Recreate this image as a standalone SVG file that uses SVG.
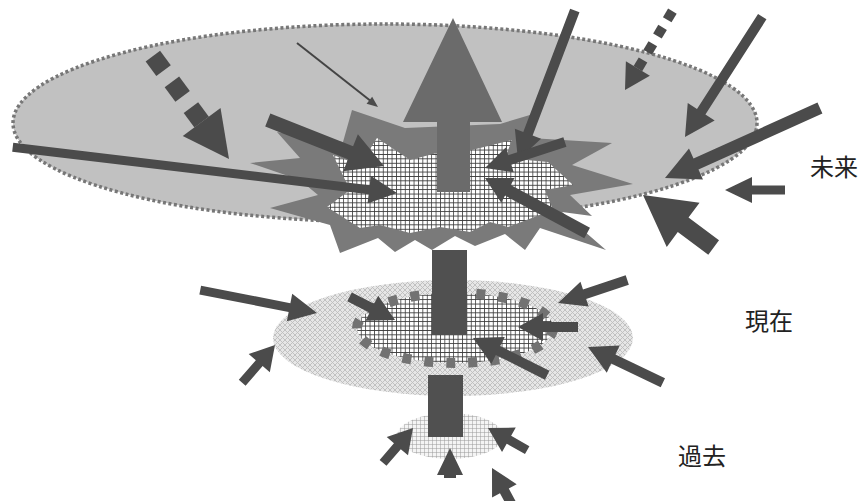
<svg xmlns="http://www.w3.org/2000/svg" width="863" height="501" viewBox="0 0 863 501">
<style>
.arr{fill:#4b4b4b}
.lbl{font-family:"Noto Sans CJK JP","Noto Sans",sans-serif;font-size:24px;fill:#222}
.bar{fill:#505050}
</style>
<defs>
<pattern id="chk" width="4.4" height="4.4" patternUnits="userSpaceOnUse">
<rect width="4.4" height="4.4" fill="#fff"/>
<path d="M0 0H4.4M0 0V4.4" stroke="#3a3a3a" stroke-width="1.6" fill="none"/>
</pattern>
<pattern id="hatch" width="5" height="5" patternUnits="userSpaceOnUse">
<rect width="5" height="5" fill="#e6e6e6"/>
<path d="M0 0L5 5M5 0L0 5" stroke="#bdbdbd" stroke-width="0.9" fill="none"/>
</pattern>
<pattern id="grid" width="4" height="4" patternUnits="userSpaceOnUse">
<rect width="4" height="4" fill="#f4f4f4"/>
<path d="M0 0H4M0 0V4" stroke="#9a9a9a" stroke-width="1" fill="none"/>
</pattern>
</defs>
<rect width="863" height="501" fill="#fff"/>

<g id="future">
<ellipse cx="385" cy="123" rx="372" ry="99" fill="#c1c1c1" stroke="#777" stroke-width="3.5" stroke-dasharray="3 2.5"/>
<polygon fill="#7a7a7a" points="352,110 405,128 500,124 540,112 530,138 612,143 572,165 633,184 570,195 592,216 562,212 606,250 540,228 525,250 505,234 475,246 455,236 432,250 415,240 395,252 378,238 340,253 330,225 270,208 318,195 300,180 250,163 300,158 277,132 343,142"/>
<polygon fill="url(#chk)" points="377,138 410,160 437,153 472,150 512,140 505,158 548,162 573,185 545,190 553,210 508,227 490,222 470,232 440,227 410,233 380,225 360,228 327,207 350,190 333,155 360,165"/>
<polygon fill="#6b6b6b" points="453,18 502,122 470,122 470,192 437,192 437,122 403,122"/>
</g>

<g id="present">
<ellipse cx="453" cy="338" rx="180" ry="58" fill="url(#hatch)"/>
<ellipse cx="455" cy="328" rx="98" ry="35" fill="url(#chk)" stroke="#727272" stroke-width="10" stroke-dasharray="9 13"/>
<rect class="bar" x="432" y="250" width="35" height="85"/>
</g>

<g id="past">
<ellipse cx="450" cy="436" rx="53" ry="23" fill="url(#grid)"/>
<rect class="bar" x="428" y="375" width="35" height="62"/>
</g>

<g id="connectors">
<g transform="translate(229,159) rotate(53.5)" class="arr">
<rect x="-128" y="-9" width="18" height="18"/>
<rect x="-96" y="-9" width="18" height="18"/>
<rect x="-64" y="-9" width="18" height="18"/>
<polygon points="-46,-23.5 0,0 -46,23.5"/>
</g>
<line x1="297" y1="43" x2="372" y2="102" stroke="#444" stroke-width="2"/>
<polygon class="arr" transform="translate(378,107) rotate(38.3)" points="-11,-4.5 0,0 -11,4.5"/>
<g transform="translate(625,90) rotate(121)" class="arr">
<rect x="-92" y="-5" width="10" height="10"/>
<rect x="-73" y="-5" width="10" height="10"/>
<rect x="-54" y="-5" width="10" height="10"/>
<rect x="-35" y="-5" width="10" height="10"/>
<polygon points="-25,-14 0,0 -25,14"/>
</g>
<polygon class="arr" transform="translate(397,193) rotate(6.8)" points="-387,-4.5 -28,-4.5 -28,-14 0,0 -28,14 -28,4.5 -387,4.5"/>
<polygon class="arr" transform="translate(384,166) rotate(21.6)" points="-125,-7 -36,-7 -36,-20 0,0 -36,20 -36,7 -125,7"/>
<polygon class="arr" transform="translate(518,160) rotate(110.8)" points="-160,-5 -28,-5 -28,-14 0,0 -28,14 -28,5 -160,5"/>
<polygon class="arr" transform="translate(485,168) rotate(162)" points="-84,-5 -26,-5 -26,-13 0,0 -26,13 -26,5 -84,5"/>
<polygon class="arr" transform="translate(485,178) rotate(208.3)" points="-116,-6 -26,-6 -26,-14 0,0 -26,14 -26,6 -116,6"/>
<polygon class="arr" transform="translate(685,137) rotate(122.7)" points="-143,-5 -30,-5 -30,-16 0,0 -30,16 -30,5 -143,5"/>
<polygon class="arr" transform="translate(665,178) rotate(155.7)" points="-170,-6 -34,-6 -34,-17 0,0 -34,17 -34,6 -170,6"/>
<polygon class="arr" transform="translate(725,190) rotate(180)" points="-60,-4.5 -27,-4.5 -27,-13 0,0 -27,13 -27,4.5 -60,4.5"/>
<polygon class="arr" transform="translate(643,195) rotate(216.6)" points="-88,-9 -50,-9 -50,-27.5 0,0 -50,27.5 -50,9 -88,9"/>
<polygon class="arr" transform="translate(317,313) rotate(11.1)" points="-119,-4.5 -28,-4.5 -28,-14 0,0 -28,14 -28,4.5 -119,4.5"/>
<polygon class="arr" transform="translate(275,345) rotate(-49)" points="-50,-4.5 -24,-4.5 -24,-14 0,0 -24,14 -24,4.5 -50,4.5"/>
<polygon class="arr" transform="translate(395,320) rotate(27)" points="-51,-5 -26,-5 -26,-14 0,0 -26,14 -26,5 -51,5"/>
<polygon class="arr" transform="translate(558,303) rotate(161.6)" points="-73,-5 -28,-5 -28,-13 0,0 -28,13 -28,5 -73,5"/>
<polygon class="arr" transform="translate(518,327) rotate(180)" points="-60,-5 -25,-5 -25,-14 0,0 -25,14 -25,5 -60,5"/>
<polygon class="arr" transform="translate(473,338) rotate(206.6)" points="-83,-5 -28,-5 -28,-15 0,0 -28,15 -28,5 -83,5"/>
<polygon class="arr" transform="translate(588,347) rotate(205.6)" points="-83,-5 -28,-5 -28,-15 0,0 -28,15 -28,5 -83,5"/>
<polygon class="arr" transform="translate(413,428) rotate(-49.4)" points="-46,-4.5 -24,-4.5 -24,-14 0,0 -24,14 -24,4.5 -46,4.5"/>
<polygon class="arr" transform="translate(450,448) rotate(-90)" points="-30,-6 -27,-6 -27,-13 0,0 -27,13 -27,6 -30,6"/>
<polygon class="arr" transform="translate(488,428) rotate(209.4)" points="-45,-4.5 -24,-4.5 -24,-14 0,0 -24,14 -24,4.5 -45,4.5"/>
<polygon class="arr" transform="translate(492,468) rotate(241.6)" points="-42,-5 -26,-5 -26,-14 0,0 -26,14 -26,5 -42,5"/>
</g>

<g id="labels">
<text class="lbl" x="810" y="176">未来</text>
<text class="lbl" x="745" y="330">現在</text>
<text class="lbl" x="678" y="465">過去</text>
</g>
</svg>
